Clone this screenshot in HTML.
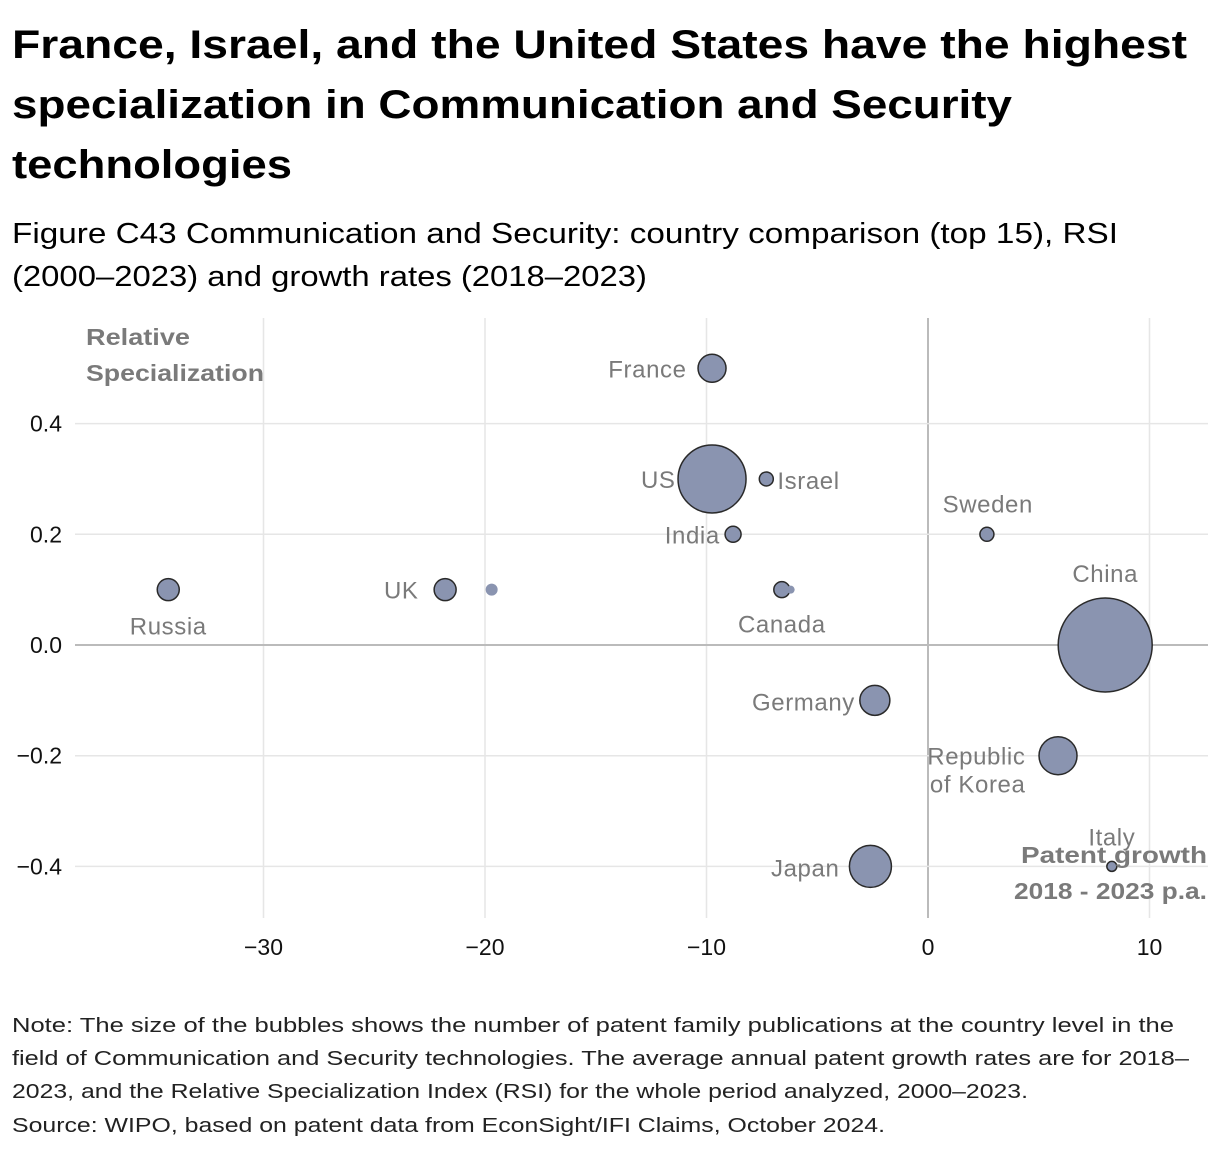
<!DOCTYPE html>
<html><head><meta charset="utf-8"><style>
body{margin:0;background:#fff;}
svg{display:block;font-family:"Liberation Sans","DejaVu Sans",sans-serif;}
</style></head><body>
<svg id="chart" width="1220" height="1152">
<text x="12" y="58" font-size="40" font-weight="bold" textLength="1175" lengthAdjust="spacingAndGlyphs">France, Israel, and the United States have the highest</text>
<text x="12" y="118" font-size="40" font-weight="bold" textLength="1000" lengthAdjust="spacingAndGlyphs">specialization in Communication and Security</text>
<text x="12" y="178" font-size="40" font-weight="bold" textLength="280" lengthAdjust="spacingAndGlyphs">technologies</text>
<text x="12" y="243" font-size="29" textLength="1106" lengthAdjust="spacingAndGlyphs">Figure C43 Communication and Security: country comparison (top 15), RSI</text>
<text x="12" y="286" font-size="29" textLength="635" lengthAdjust="spacingAndGlyphs">(2000–2023) and growth rates (2018–2023)</text>
<g id="plot"></g>
<g font-size="20.5" fill="#222">
<text x="12" y="1032" textLength="1162" lengthAdjust="spacingAndGlyphs">Note: The size of the bubbles shows the number of patent family publications at the country level in the</text>
<text x="12" y="1065" textLength="1177" lengthAdjust="spacingAndGlyphs">field of Communication and Security technologies. The average annual patent growth rates are for 2018–</text>
<text x="12" y="1098" textLength="1016" lengthAdjust="spacingAndGlyphs">2023, and the Relative Specialization Index (RSI) for the whole period analyzed, 2000–2023.</text>
<text x="12" y="1132" textLength="873" lengthAdjust="spacingAndGlyphs">Source: WIPO, based on patent data from EconSight/IFI Claims, October 2024.</text>
</g>
</svg>
<script>
const countries=["France","US","Israel","India","Sweden","Russia","UK","","Canada","","China","Germany","Republic of Korea","Japan","Italy"];
const growth=[-9.75,-9.75,-7.3,-8.8,2.66,-34.3,-21.8,-19.7,-6.6,-6.2,8.0,-2.4,5.87,-2.6,8.3];
const rsi=[0.5,0.3,0.3,0.2,0.2,0.1,0.1,0.1,0.1,0.1,0.0,-0.1,-0.2,-0.4,-0.4];
const patents=[196,1156,49,64,49,121,121,36,64,16,2209,225,361,441,25];
const xTicks=[-30,-20,-10,0,10];
const yTicks=[0.4,0.2,0.0,-0.2,-0.4];
const yTickLabels=["0.4","0.2","0.0","−0.2","−0.4"];
const xTickLabels=["−30","−20","−10","0","10"];
const X=v=>928+v*22.15, Y=v=>645-v*553.5, R=v=>Math.sqrt(v);
const NS="http://www.w3.org/2000/svg", g=document.getElementById('plot');
function mk(t,a,txt){const e=document.createElementNS(NS,t);for(const k in a)e.setAttribute(k,a[k]);if(txt!==undefined)e.textContent=txt;g.appendChild(e);return e;}
xTicks.forEach((t,i)=>{
 const l=mk('line',{x1:X(t),x2:X(t),y1:318,y2:918,stroke:t===0?'#bbb':'#e6e6e6','stroke-width':t===0?2:1.5});
 
 
 const tx=mk('text',{x:X(t),y:955,'font-size':23,'text-anchor':'middle',fill:'#111'},xTickLabels[i]);
 
 
});
yTicks.forEach((t,i)=>{
 const l=mk('line',{x1:75,x2:1208,y1:Y(t),y2:Y(t),stroke:t===0?'#bbb':'#e6e6e6','stroke-width':t===0?2:1.5});
 
 
 const tx=mk('text',{x:62,y:Y(t)+8,'font-size':23,'text-anchor':'end',fill:'#111'},yTickLabels[i]);
 
 
});
const yt=mk('text',{x:86,y:345,'font-size':23,'font-weight':'bold',fill:'#7a7a7a',textLength:104,lengthAdjust:'spacingAndGlyphs'},'Relative');


const yt2=mk('text',{x:86,y:381,'font-size':23,'font-weight':'bold',fill:'#7a7a7a',textLength:178,lengthAdjust:'spacingAndGlyphs'},'Specialization');


countries.forEach((c,i)=>{
 const ci=mk('circle',{cx:X(growth[i]),cy:Y(rsi[i]),r:R(patents[i]),fill:'#8a94b0',stroke:c?'#2a2a2a':'none','stroke-width':1.5});
 
 
});
const lbl=[["France",-10.9,0.5,"end",9],["US",-11.4,0.3,"end",9],["Israel",-6.8,0.3,"start",10],["India",-9.4,0.2,"end",9],["Sweden",2.7,0.2,"middle",-22],["Russia",-34.3,0.1,"middle",45],["UK",-23,0.1,"end",9],["Canada",-6.6,0.1,"middle",43],["China",8.0,0.0,"middle",-63],["Germany",-3.3,-0.1,"end",10],["Republic",4.4,-0.2,"end",9],["of Korea",4.4,-0.2,"end",37],["Japan",-4.0,-0.4,"end",10],["Italy",8.3,-0.4,"middle",-21]];
lbl.forEach(l=>{
 const t=mk('text',{x:X(l[1]),y:Y(l[2])+l[4],'font-size':24,'text-anchor':l[3],fill:'#7a7a7a','letter-spacing':0.6},l[0]);
 
 
});
const xt=mk('text',{x:1207,y:863,'font-size':23,'font-weight':'bold','text-anchor':'end',fill:'#7a7a7a',textLength:186,lengthAdjust:'spacingAndGlyphs'},'Patent growth');


const xt2=mk('text',{x:1207,y:899,'font-size':23,'font-weight':'bold','text-anchor':'end',fill:'#7a7a7a',textLength:193,lengthAdjust:'spacingAndGlyphs'},'2018 - 2023 p.a.');


</script>
</body></html>
